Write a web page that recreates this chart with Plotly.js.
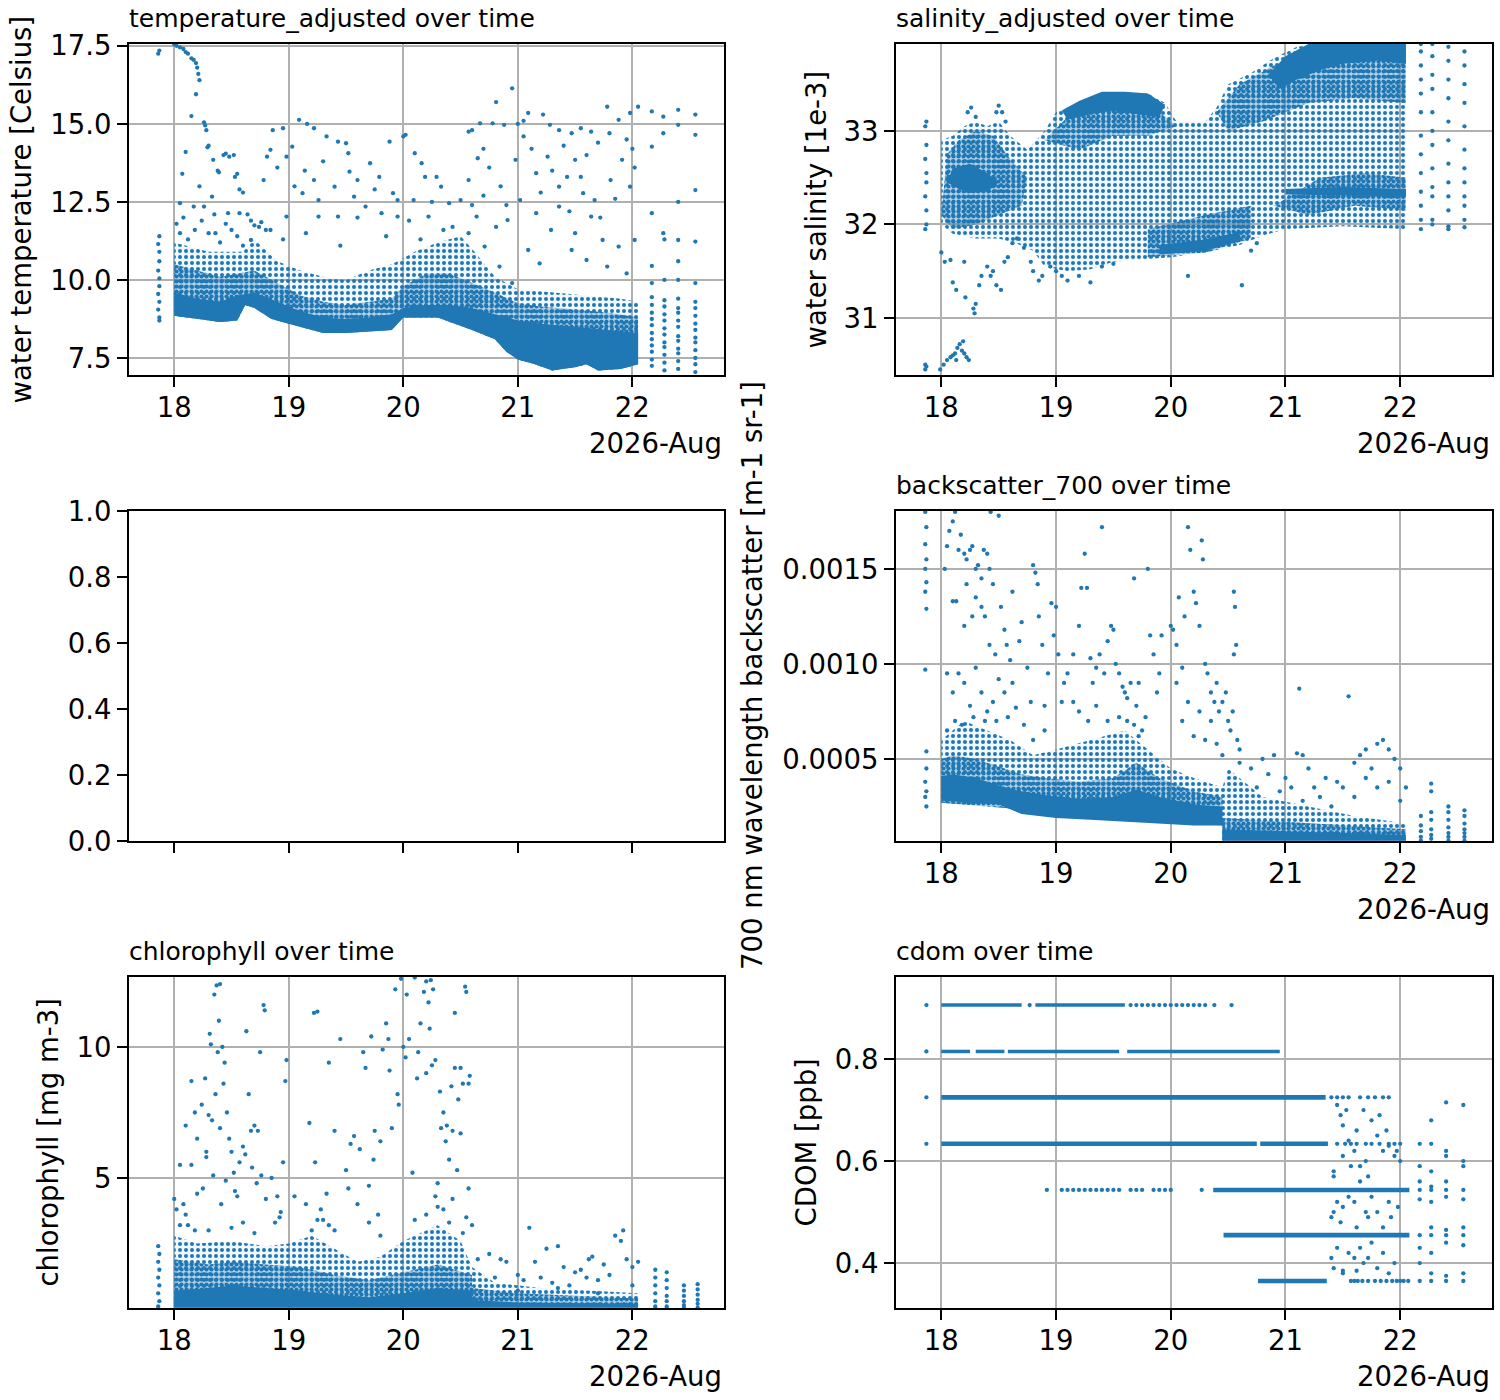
<!DOCTYPE html>
<html>
<head>
<meta charset="utf-8">
<script src="https://cdn.plot.ly/plotly-3.0.1.min.js"></script>
<style>
  body { margin: 0; background: #fff; }
  #chart { width: 1500px; height: 1400px; }
</style>
</head>
<body>
<div id="chart"></div>
<script>
// ---- shared axis values ----
const dayTicks = [18, 19, 20, 21, 22];
const dayRange = [17.605, 22.8];
const monthLabel = '2026-Aug';

// ---- temperature_adjusted (day of Aug, Celsius) ----
const tempTicks = [7.5, 10, 12.5, 15, 17.5];
const tempTickText = ['7.5', '10.0', '12.5', '15.0', '17.5'];
const tempRange = [6.955, 17.56];
const tempLowerEdge = [[18.0,8.85],[18.2,8.75],[18.4,8.65],[18.55,8.7],[18.62,9.2],[18.7,9.1],[18.85,8.75],[19.0,8.6],[19.15,8.45],[19.3,8.3],[19.5,8.3],[19.7,8.35],[19.9,8.4],[20.0,8.8],[20.3,8.8],[20.45,8.6],[20.6,8.4],[20.8,8.1],[20.9,7.7],[21.0,7.45],[21.15,7.3],[21.3,7.1],[21.5,7.2],[21.6,7.3],[21.7,7.1],[21.9,7.15],[22.05,7.3]];
const tempCoreTop = [[22.05,8.3],[21.8,8.4],[21.5,8.5],[21.2,8.6],[21.0,8.7],[20.8,8.9],[20.6,9.1],[20.4,9.2],[20.2,9.2],[20.0,9.1],[19.9,8.9],[19.7,8.8],[19.5,8.75],[19.3,8.8],[19.1,9.0],[18.9,9.3],[18.7,9.6],[18.55,9.5],[18.4,9.3],[18.2,9.4],[18.0,9.6]];
const tempMidTop = [[22.05,8.8],[21.8,8.95],[21.5,9.05],[21.2,9.15],[21.0,9.25],[20.8,9.6],[20.6,9.9],[20.4,10.2],[20.2,10.2],[20.0,9.8],[19.9,9.4],[19.7,9.3],[19.5,9.2],[19.3,9.3],[19.1,9.5],[18.9,9.9],[18.7,10.3],[18.55,10.2],[18.4,10.1],[18.2,10.3],[18.0,10.5]];
const tempCloudTop = [[22.05,9.3],[21.9,9.4],[21.6,9.5],[21.3,9.6],[21.0,9.7],[20.8,10.1],[20.6,11.0],[20.5,11.4],[20.3,11.2],[20.1,10.9],[19.9,10.5],[19.7,10.3],[19.5,10.0],[19.3,10.1],[19.1,10.3],[18.9,10.6],[18.7,11.3],[18.6,10.9],[18.3,10.9],[18.0,11.2]];
const tempPoints = [[17.87,8.7],[17.87,8.8],[17.86,9.05],[17.87,9.3],[17.86,9.55],[17.87,9.8],[17.87,10.05],[17.86,10.3],[17.87,10.6],[17.87,10.9],[17.86,11.15],[17.87,11.4],[17.86,17.25],[17.87,17.35],
  [18.0,17.55],[18.02,17.5],[18.05,17.45],[18.08,17.4],[18.1,17.3],[18.12,17.25],[18.15,17.1],[18.17,17.05],[18.19,16.95],[18.2,16.8],[18.21,16.6],[18.22,16.4],[18.19,15.95],[18.15,15.25],[18.1,14.1],[18.07,13.4],[18.26,15.05],[18.27,14.95],[18.28,14.8],[18.3,14.3],[18.29,14.25],[18.34,13.85],[18.38,13.5],[18.39,13.45],[18.43,14.0],[18.45,14.05],[18.48,13.95],[18.52,14.0],[18.53,13.3],[18.55,13.4],[18.57,12.9],[18.6,12.8],[18.64,12.1],[18.67,11.9],[18.7,11.75],[18.74,11.7],[18.76,11.85],[18.8,11.6],
  [18.86,14.8],[18.95,14.86],[19.09,15.13],[19.16,15.0],[19.22,14.86],[19.33,14.6],[19.43,14.43],[19.5,14.38],[19.52,14.06],[18.84,14.17],[18.81,13.95],[18.78,13.2],[18.98,13.95],[19.03,14.27],[19.14,13.5],[19.22,13.2],[19.26,12.56],[19.4,12.99],[19.53,13.47],[19.6,13.2],[19.71,13.74],[19.79,13.3],[19.88,14.43],[19.91,12.78],[19.95,12.56],[20.0,14.6],[20.02,14.65],[20.1,14.06],[20.16,13.74],[20.19,13.3],[20.29,13.3],[20.33,12.99],[20.4,12.46],[20.5,12.56],[20.57,13.2],[20.57,14.75],[20.6,14.8],[20.67,15.02],[20.78,15.02],[20.88,14.97],[20.95,16.14],[20.81,15.7],[21.09,15.35],[21.22,15.3],[21.28,14.97],[21.36,14.8],[21.47,14.7],[21.55,14.86],[21.64,14.75],[21.78,15.55],[21.88,15.13],[21.98,15.35],[22.05,15.55],[22.17,15.4],[22.27,15.23],[22.4,15.45],[22.55,15.3],[22.55,14.65],[22.4,14.97],[22.27,14.7],[22.17,14.27],
  [20.98,13.85],[21.05,14.6],[21.16,13.42],[21.26,13.95],[21.36,12.99],[21.43,13.3],[21.5,13.85],[21.57,12.78],[21.67,12.56],[21.81,13.2],[21.91,13.85],[21.98,12.99],[21.16,12.14],[21.29,11.6],[21.36,12.35],[21.5,11.5],[21.64,12.03],[21.74,11.28],[21.88,11.07],[22.02,11.28],[21.09,10.96],[21.19,10.53],[21.47,10.96],[21.6,10.64],[21.78,10.43],[21.95,10.21],[22.17,12.14],[22.27,11.5],[22.4,11.28],[22.55,11.23],[22.55,12.88],[22.4,12.5],
  [18.22,13.0],[18.33,12.67],[18.47,12.14],[18.57,12.14],[18.05,12.46],[18.17,12.35],[18.26,12.35],[18.36,11.5],[18.5,11.6],[18.67,11.28],[18.84,11.6],[18.98,12.03],[19.12,12.78],[19.26,12.03],[19.43,12.03],[19.57,12.67],[19.67,12.35],[19.81,12.14],[19.95,12.03],[20.09,12.56],[20.22,12.03],[20.43,11.7],[20.57,11.5],[20.64,12.03],[20.71,11.07],[20.81,11.7],[20.91,11.92],[21.02,12.56],[20.84,10.43],[20.95,9.9],
  [18.9,13.6],[19.05,13.0],[19.3,13.8],[19.6,12.0],[19.75,12.9],[19.85,11.4],[20.05,11.9],[20.25,12.5],[20.35,11.6],[20.15,11.3],[19.45,11.1],[19.15,11.5],[18.95,11.3],[18.6,11.1],[18.4,11.2],
  [20.7,14.2],[20.75,13.6],[20.85,13.0],[20.9,12.4],[21.0,15.0],[21.05,15.1],[21.12,14.2],[21.2,12.8],[21.3,13.5],[21.4,14.3],[21.45,12.2],[21.55,13.3],[21.6,14.0],[21.7,14.4],[21.72,12.0],[21.8,14.7],[21.85,12.6],[21.95,14.5],[22.0,14.2],[22.02,13.6],[20.65,13.9],[20.7,12.7],[20.6,12.4],
  [18.02,11.8],[18.05,11.5],[18.08,12.0],[18.12,11.3],[18.18,11.6],[18.24,11.9],[18.3,11.5],[18.35,12.1],[18.45,11.8],[18.55,11.4]];
const tempColumns = [[22.17,[7.25,7.45,7.7,7.9,8.1,8.3,8.55,8.75,8.95,9.2,9.45,9.9,10.45]],[22.28,[7.1,7.35,7.6,7.85,8.0,8.25,8.45,8.7,8.9,9.15,9.35,10.0,11.3]],[22.4,[7.15,7.4,7.65,7.8,8.05,8.2,8.5,8.7,8.95,9.1,9.4,10.0,10.6]],[22.55,[7.05,7.3,7.5,7.75,8.0,8.15,8.4,8.6,8.85,9.1,9.3,9.9]]];

// ---- salinity_adjusted (day of Aug, 1e-3) ----
const salTicks = [31, 32, 33];
const salTickText = ['31', '32', '33'];
const salRange = [30.39, 33.93];
const salCloud = [[18.0,32.9],[18.1,32.95],[18.2,33.05],[18.3,33.1],[18.4,33.05],[18.5,33.1],[18.6,32.95],[18.75,32.8],[18.9,33.0],[19.0,33.2],[19.2,33.3],[19.4,33.42],[19.6,33.42],[19.8,33.4],[19.95,33.3],[20.05,33.1],[20.3,33.1],[20.4,33.25],[20.5,33.5],[20.7,33.62],[20.9,33.78],[21.1,33.9],[21.3,33.93],[22.05,33.93],
  [22.05,31.95],[21.5,31.98],[21.0,31.95],[20.8,31.88],[20.6,31.78],[20.3,31.7],[20.0,31.65],[19.7,31.62],[19.5,31.6],[19.3,31.52],[19.1,31.5],[18.9,31.55],[18.8,31.72],[18.65,31.8],[18.5,31.85],[18.3,31.85],[18.1,31.9],[18.0,32.0]];
const salMid = [
  [[18.0,32.1],[18.05,32.75],[18.15,32.9],[18.3,33.0],[18.45,32.95],[18.6,32.7],[18.75,32.5],[18.7,32.2],[18.5,32.1],[18.3,32.0],[18.1,31.95]],
  [[18.9,32.9],[19.1,33.15],[19.5,33.25],[19.9,33.2],[20.05,33.05],[19.8,32.95],[19.5,32.95],[19.2,32.8]],
  [[20.4,33.2],[20.6,33.5],[20.9,33.7],[21.3,33.75],[22.05,33.75],[22.05,33.3],[21.6,33.35],[21.2,33.3],[20.8,33.1],[20.5,33.0]],
  [[20.9,32.2],[21.3,32.5],[21.7,32.55],[22.05,32.5],[22.05,32.15],[21.6,32.2],[21.2,32.1]],
  [[19.8,31.65],[20.3,31.7],[20.7,31.85],[20.7,32.2],[20.3,32.1],[19.8,31.95]]];
const salCores = [
  [[19.05,33.22],[19.2,33.32],[19.4,33.42],[19.6,33.42],[19.8,33.4],[19.95,33.28],[19.9,33.15],[19.7,33.18],[19.5,33.22],[19.3,33.18],[19.1,33.12]],
  [[20.85,33.6],[21.0,33.8],[21.2,33.93],[22.05,33.93],[22.05,33.72],[21.8,33.75],[21.5,33.72],[21.3,33.65],[21.1,33.55],[20.95,33.45]],
  [[18.05,32.45],[18.1,32.6],[18.25,32.65],[18.4,32.55],[18.5,32.45],[18.4,32.35],[18.2,32.35]],
  [[21.0,32.38],[21.5,32.4],[22.05,32.38],[22.05,32.3],[21.5,32.31],[21.0,32.32]],
  [[19.9,31.68],[20.3,31.72],[20.6,31.82],[20.6,31.92],[20.3,31.84],[19.9,31.78]]];
const salPoints = [[17.87,33.1],[17.86,33.05],[17.87,32.85],[17.86,32.7],[17.87,32.55],[17.87,32.45],[17.86,32.3],[17.87,32.15],[17.87,32.0],[17.86,31.95],[17.86,30.45],[17.87,30.48],[17.86,30.5],
  [17.99,30.45],[18.02,30.5],[18.05,30.55],[18.08,30.58],[18.1,30.6],[18.12,30.62],[18.14,30.68],[18.16,30.72],[18.18,30.65],[18.2,30.62],[18.22,30.58],[18.24,30.55],[18.13,30.55],[18.19,30.75],
  [18.0,31.7],[18.03,31.6],[18.08,31.62],[18.1,31.38],[18.13,31.3],[18.2,31.6],[18.21,31.22],[18.28,31.1],[18.29,31.05],[18.3,31.15],[18.33,31.35],[18.35,31.45],[18.4,31.55],[18.43,31.45],[18.45,31.5],[18.48,31.35],[18.52,31.3],[18.55,31.6],[18.58,31.65],[18.62,31.8],[18.66,31.85],[18.72,31.75],[18.78,31.6],[18.8,31.5],[18.85,31.4],[18.88,31.45],[18.95,31.55],[19.0,31.5],[19.05,31.45],[19.1,31.4],[19.2,31.45],[19.3,31.38],[19.4,31.55],[19.5,31.58],[20.15,31.45],[20.62,31.35],[20.7,31.72],[20.75,31.8],
  [18.23,33.2],[18.26,33.25],[18.3,33.15],[18.48,33.2],[18.5,33.27],[18.53,33.2],[18.56,33.1]];
const salColumns = [[22.18,[33.93,33.85,33.7,33.55,33.4,33.2,32.95,32.75,32.55,32.35,32.2,32.05,31.95]],[22.28,[33.93,33.8,33.6,33.45,33.2,33.0,32.85,32.6,32.4,32.3,32.05,32.0]],[22.42,[33.9,33.75,33.55,33.35,33.1,32.9,32.65,32.45,32.3,32.15,31.98,31.95]],[22.56,[33.85,33.7,33.5,33.3,33.05,32.8,32.6,32.45,32.3,32.2,32.05,31.97]]];

// ---- backscatter_700 (day of Aug, m-1 sr-1) ----
const backTicks = [0.0005, 0.0010, 0.0015];
const backTickText = ['0.0005', '0.0010', '0.0015'];
const backRange = [0.0000684, 0.001805];
const backCloud = [[18.0,0.0006],[18.2,0.0007],[18.4,0.00065],[18.6,0.0006],[18.8,0.00052],[19.0,0.00055],[19.3,0.0006],[19.6,0.00065],[19.8,0.00055],[20.0,0.00045],[20.2,0.0004],[20.45,0.00035],[20.5,0.00045],[20.8,0.0003],[21.2,0.00025],[21.6,0.0002],[22.05,0.00016],[22.05,0.00007],[20.45,0.00007],[20.45,0.00015],[18.0,0.00027]];
const backMid = [
  [[18.0,0.00027],[20.45,0.00015],[20.45,0.0003],[20.2,0.00033],[19.9,0.0004],[19.7,0.00048],[19.5,0.0004],[19.2,0.00038],[18.9,0.0004],[18.7,0.00042],[18.5,0.00046],[18.3,0.0005],[18.1,0.00052],[18.0,0.0005]],
  [[20.45,0.00007],[22.05,0.00007],[22.05,0.00013],[21.5,0.00015],[21.0,0.00017],[20.45,0.00019]]];
const backCores = [
  [[18.0,0.00028],[18.3,0.00027],[18.5,0.00026],[18.7,0.00021],[19.0,0.00019],[19.3,0.00018],[19.6,0.00017],[19.9,0.00016],[20.2,0.00015],[20.45,0.00015],[20.45,0.00025],[20.2,0.00026],[19.9,0.0003],[19.7,0.00034],[19.5,0.0003],[19.2,0.00029],[18.9,0.00031],[18.7,0.00033],[18.5,0.00036],[18.3,0.0004],[18.1,0.00042],[18.0,0.00041]],
  [[20.45,0.00007],[22.05,0.00007],[22.05,0.0001],[21.5,0.00011],[21.0,0.00012],[20.45,0.00013]]];
const backPoints = [[17.87,0.00025],[17.86,0.0003],[17.87,0.00033],[17.86,0.00038],[17.87,0.00045],[17.87,0.00054],[17.86,0.00097],[17.87,0.00129],[17.86,0.00138],[17.87,0.00143],[17.86,0.0015],[17.87,0.00155],[17.86,0.00163],[17.87,0.00172],[17.86,0.0018],
  [18.03,0.0015],[18.05,0.00162],[18.07,0.0017],[18.1,0.00175],[18.12,0.0018],[18.15,0.0016],[18.17,0.00168],[18.2,0.00158],[18.22,0.00155],[18.25,0.0016],[18.27,0.00162],[18.3,0.0015],[18.32,0.00152],[18.35,0.00145],[18.37,0.0016],[18.4,0.00158],[18.42,0.0015],[18.45,0.00142],[18.43,0.0018],[18.5,0.00178],[18.52,0.0013],[18.55,0.00118],[18.57,0.0011],[18.6,0.00102],[18.62,0.00138],[18.1,0.00133],[18.13,0.00133],[18.2,0.0012],[18.22,0.00142],[18.27,0.00125],[18.3,0.00135],[18.35,0.0013],[18.38,0.00125],[18.42,0.0011],[18.47,0.00105],[18.05,0.00095],[18.1,0.00085],[18.15,0.00095],[18.2,0.0009],[18.25,0.00078],[18.3,0.00098],[18.35,0.00085],[18.4,0.00075],[18.45,0.0008],[18.5,0.00092],[18.55,0.00085],[18.58,0.00072],[18.62,0.0009],[18.65,0.00077],[18.05,0.00065],[18.12,0.0007],[18.18,0.00068],[18.28,0.00072],[18.38,0.0007],[18.48,0.0007],[18.68,0.00112],[18.7,0.00122],[18.75,0.00098],[18.8,0.00152],[18.82,0.00148],[18.84,0.00142],[18.85,0.00125],[18.88,0.0011],[18.9,0.00078],[18.93,0.00095],[18.96,0.00132],[18.98,0.00115],[19.0,0.0013],[19.02,0.00105],[19.05,0.0008],[19.07,0.0009],[18.78,0.0008],[18.72,0.00068],[18.8,0.0006],[18.9,0.00065],
  [19.1,0.00095],[19.15,0.00105],[19.2,0.0012],[19.22,0.0014],[19.25,0.00158],[19.27,0.0014],[19.3,0.00103],[19.32,0.0009],[19.35,0.00098],[19.38,0.00105],[19.4,0.00172],[19.42,0.00095],[19.45,0.00112],[19.48,0.0012],[19.5,0.00118],[19.52,0.001],[19.55,0.00095],[19.58,0.00088],[19.6,0.00085],[19.62,0.00082],[19.65,0.0009],[19.68,0.00145],[19.7,0.00078],[19.72,0.0009],[19.75,0.00065],[19.78,0.00072],[19.8,0.0015],[19.82,0.00115],[19.85,0.00105],[19.88,0.00085],[19.9,0.00095],[19.92,0.00115],[19.15,0.0008],[19.2,0.00075],[19.28,0.0007],[19.35,0.00078],[19.45,0.0007],[19.55,0.00072],[19.62,0.0007],[19.68,0.00068],[19.72,0.00062],
  [20.0,0.0012],[20.02,0.00118],[20.05,0.0011],[20.07,0.00135],[20.1,0.00098],[20.12,0.00125],[20.15,0.00172],[20.17,0.0016],[20.2,0.00138],[20.22,0.00132],[20.25,0.0012],[20.27,0.00165],[20.28,0.00155],[20.3,0.001],[20.32,0.00095],[20.35,0.00085],[20.38,0.0008],[20.4,0.0009],[20.42,0.00075],[20.45,0.0008],[20.48,0.00085],[20.5,0.0007],[20.52,0.00065],[20.54,0.00075],[20.55,0.00105],[20.57,0.0011],[20.58,0.0006],[20.6,0.00055],[20.55,0.00138],[20.56,0.0013],[20.05,0.0009],[20.15,0.0008],[20.25,0.00075],[20.35,0.0007],[20.1,0.0007],[20.2,0.00062],[20.3,0.0006],[20.4,0.00058],[20.45,0.00052],
  [20.6,0.00048],[20.7,0.00045],[20.8,0.0005],[20.85,0.00042],[20.9,0.00052],[21.0,0.0004],[21.05,0.00035],[21.1,0.00053],[21.12,0.00087],[21.15,0.00052],[21.2,0.00045],[21.25,0.00035],[21.3,0.0003],[21.4,0.00025],[21.5,0.00035],[21.55,0.00083],[21.6,0.00048],[21.65,0.00052],[21.7,0.00055],[21.75,0.00045],[21.8,0.00058],[21.85,0.0006],[21.9,0.00055],[21.95,0.0005],[22.0,0.00045],[22.05,0.00035],[21.7,0.0004],[21.8,0.00035],[21.6,0.0003],[21.45,0.00038],[21.35,0.0004],[20.95,0.00033],[20.75,0.00035],[21.15,0.00028],[21.9,0.00038],[22.0,0.00028]];
const backColumns = [[22.18,[0.00007,0.00009,0.00012,0.00015,0.0002]],[22.27,[0.00008,0.0001,0.00013,0.00018,0.00022,0.00033,0.00037]],[22.42,[0.00007,0.00009,0.00011,0.00014,0.00018,0.00022,0.00025]],[22.56,[0.00007,0.00009,0.00011,0.00013,0.00016,0.0002,0.00023]]];

// ---- chlorophyll (day of Aug, mg m-3) ----
const chlTicks = [5, 10];
const chlTickText = ['5', '10'];
const chlRange = [0.04, 12.67];
const chlCloud = [[18.0,2.8],[18.2,2.5],[18.5,2.6],[18.8,2.4],[19.0,2.5],[19.2,2.8],[19.4,2.3],[19.6,1.8],[19.8,2.0],[20.0,2.6],[20.3,3.2],[20.5,2.6],[20.6,1.6],[20.8,1.0],[21.2,0.8],[21.6,0.7],[22.05,0.6],[22.05,0.05],[18.0,0.05]];
const chlMid = [
  [[18.0,0.05],[20.6,0.05],[20.6,1.3],[20.3,1.7],[20.0,1.4],[19.7,1.1],[19.4,1.3],[19.1,1.6],[18.8,1.7],[18.5,1.8],[18.3,1.7],[18.0,1.9]],
  [[20.6,0.05],[22.05,0.05],[22.05,0.4],[21.5,0.5],[21.0,0.6],[20.6,0.8]]];
const chlCores = [
  [[18.0,0.05],[20.6,0.05],[20.6,0.7],[20.3,0.8],[20.0,0.6],[19.7,0.45],[19.4,0.55],[19.1,0.7],[18.8,0.8],[18.5,0.9],[18.3,0.8],[18.0,0.7]],
  [[20.6,0.05],[22.05,0.05],[22.05,0.2],[21.5,0.22],[21.0,0.25],[20.6,0.35]]];
const chlPoints = [[17.86,0.1],[17.87,0.3],[17.86,0.6],[17.87,0.9],[17.86,1.2],[17.87,1.5],[17.86,1.8],[17.87,2.1],[17.86,2.4],
  [18.0,4.2],[18.02,3.8],[18.05,5.5],[18.08,4.0],[18.1,3.6],[18.12,3.2],[18.15,5.5],[18.15,8.7],[18.1,7.0],[18.18,3.0],[18.2,4.4],[18.18,7.5],[18.2,6.5],[18.24,7.8],[18.25,4.6],[18.27,8.8],[18.28,6.0],[18.28,5.8],[18.3,7.4],[18.31,10.5],[18.32,10.1],[18.33,7.2],[18.34,5.1],[18.35,12.0],[18.36,8.2],[18.37,12.35],[18.38,9.8],[18.39,11.0],[18.4,12.4],[18.4,6.9],[18.41,4.0],[18.42,10.0],[18.43,8.6],[18.44,9.4],[18.45,4.9],[18.46,7.5],[18.48,6.5],[18.5,6.0],[18.52,5.2],[18.53,4.5],[18.55,4.3],[18.57,5.6],[18.6,6.2],[18.62,5.9],[18.63,10.6],[18.65,8.2],[18.67,6.8],[18.68,5.4],[18.7,7.0],[18.72,4.8],[18.73,6.8],[18.75,9.8],[18.76,5.1],[18.78,11.6],[18.79,11.4],[18.8,4.2],[18.85,5.0],[18.9,4.3],[18.92,3.5],[18.95,5.6],[18.97,8.7],[18.98,9.5],[18.93,3.7],[18.88,3.3],
  [19.05,4.3],[19.15,4.0],[19.18,7.1],[19.22,11.3],[19.25,11.35],[19.23,5.6],[19.28,3.8],[19.3,3.4],[19.33,4.4],[19.35,9.4],[19.4,6.8],[19.45,10.3],[19.5,5.3],[19.52,4.6],[19.54,6.3],[19.57,6.6],[19.6,4.0],[19.62,6.1],[19.65,9.8],[19.67,9.2],[19.7,4.7],[19.72,10.4],[19.74,5.7],[19.75,6.8],[19.78,3.6],[19.8,6.4],[19.82,9.9],[19.85,10.9],[19.87,10.3],[19.88,9.1],[19.9,6.9],[19.93,12.2],[19.95,8.2],[19.96,7.8],[19.98,12.6],[20.0,10.0],[20.02,9.6],[20.03,12.0],[20.05,10.3],
  [20.08,5.2],[20.1,12.65],[20.12,8.8],[20.13,9.8],[20.15,10.9],[20.18,12.1],[20.2,12.5],[20.2,9.0],[20.22,11.7],[20.23,10.7],[20.24,12.55],[20.25,9.3],[20.26,12.2],[20.28,9.5],[20.3,4.8],[20.28,4.3],[20.32,8.3],[20.33,6.9],[20.35,7.5],[20.37,6.4],[20.38,7.0],[20.4,5.7],[20.42,8.5],[20.43,6.8],[20.45,9.2],[20.47,5.3],[20.48,8.0],[20.5,9.2],[20.5,6.7],[20.52,8.6],[20.54,12.3],[20.55,12.1],[20.57,8.6],[20.58,8.9],[20.57,4.6],[20.45,11.3],[20.43,4.2],[20.35,3.8],[20.55,3.5],[20.6,3.2],[20.52,2.9],
  [20.65,1.9],[20.75,2.1],[20.85,1.9],[20.9,1.8],[21.0,1.3],[21.05,1.1],[21.1,3.1],[21.15,1.8],[21.2,1.2],[21.25,2.3],[21.3,1.0],[21.35,2.4],[21.4,1.6],[21.45,0.9],[21.5,1.4],[21.55,1.5],[21.6,1.2],[21.62,1.9],[21.65,2.0],[21.7,1.1],[21.75,1.7],[21.8,1.3],[21.85,2.8],[21.9,2.6],[21.92,3.0],[21.95,1.9],[22.0,1.6],[22.05,1.8],[21.35,0.8],[21.0,0.7],[20.8,1.2],[21.7,0.6],[22.0,0.9],
  [18.05,3.2],[18.3,3.0],[18.5,3.1],[18.6,3.3],[18.7,2.9],[19.2,3.0],[19.25,3.4],[19.35,3.2],[19.4,3.0],[19.7,3.3],[19.8,2.8],[20.1,3.4],[20.2,3.6],[20.3,3.9],[20.4,3.3]];
const chlColumns = [[22.2,[0.1,0.3,0.6,0.9,1.2,1.5]],[22.3,[0.1,0.3,0.5,0.8,1.1,1.4]],[22.45,[0.05,0.15,0.3,0.5,0.7,0.9]],[22.57,[0.05,0.2,0.35,0.55,0.75,0.95]]];

// ---- cdom (day of Aug, ppb) ----
const cdomTicks = [0.4, 0.6, 0.8];
const cdomTickText = ['0.4', '0.6', '0.8'];
const cdomRange = [0.312, 0.961];
// [level, first day, last day] of the runs that read as solid lines
const cdomRuns = [[0.906,18.0,18.7],[0.906,18.82,19.6],[0.815,18.0,18.25],[0.815,18.3,18.55],[0.815,18.58,19.55],[0.815,19.62,20.95],[0.725,18.0,21.35],[0.634,18.0,20.75],[0.634,20.78,21.37],[0.5435,20.37,22.08],[0.4548,20.46,22.08],[0.3649,20.76,21.36]];
const cdomLevelDots = [[0.906,[17.87,18.77,19.65,19.7,19.75,19.8,19.85,19.9,19.95,20.0,20.05,20.1,20.15,20.2,20.25,20.3,20.38,20.53]],[0.815,[17.87]],[0.725,[17.87,21.4,21.45,21.5,21.55,21.65,21.72,21.78,21.85,21.9]],[0.634,[17.87,21.45,21.52,21.57,21.62,21.7,21.75,21.82,21.9,21.95,22.0]],[0.5435,[18.92,19.05,19.1,19.15,19.2,19.25,19.3,19.35,19.4,19.45,19.5,19.55,19.65,19.7,19.75,19.85,19.9,19.95,20.0,20.27]],[0.3649,[21.57,21.6,21.63,21.67,21.72,21.78,21.83,21.88,21.93,21.97,22.0,22.03,22.07]]];
const cdomPoints = [[21.42,0.58],[21.42,0.57],[21.45,0.71],[21.48,0.69],[21.5,0.67],[21.5,0.61],[21.53,0.7],[21.55,0.64],[21.57,0.59],[21.6,0.62],[21.62,0.66],[21.65,0.59],[21.68,0.7],[21.7,0.6],[21.72,0.57],[21.75,0.68],[21.8,0.65],[21.82,0.69],[21.85,0.62],[21.88,0.66],[21.9,0.63],[21.95,0.61],[21.97,0.62],[22.0,0.6],
  [21.4,0.49],[21.42,0.5],[21.45,0.52],[21.48,0.48],[21.5,0.51],[21.55,0.53],[21.6,0.52],[21.62,0.47],[21.65,0.56],[21.7,0.5],[21.72,0.49],[21.75,0.53],[21.8,0.5],[21.85,0.47],[21.9,0.52],[21.92,0.49],[21.98,0.51],
  [21.4,0.41],[21.42,0.39],[21.45,0.43],[21.5,0.38],[21.55,0.42],[21.6,0.41],[21.65,0.43],[21.68,0.4],[21.72,0.41],[21.75,0.44],[21.8,0.39],[21.85,0.42],[21.9,0.38],[21.95,0.4],[21.5,0.385],[21.62,0.385]];
const cdomColumns = [[22.17,[0.634,0.59,0.56,0.5435,0.525,0.4548,0.43,0.4,0.3649]],[22.27,[0.634,0.68,0.58,0.55,0.5435,0.52,0.47,0.4548,0.42,0.38,0.3649]],[22.4,[0.715,0.62,0.61,0.56,0.5435,0.53,0.465,0.4548,0.44,0.375,0.3649]],[22.55,[0.71,0.6,0.59,0.5435,0.525,0.47,0.4548,0.435,0.38,0.3649]]];

// ---- empty panel ----
const emptyTicks = [0, 0.2, 0.4, 0.6, 0.8, 1.0];
const emptyTickText = ['0.0', '0.2', '0.4', '0.6', '0.8', '1.0'];

// ---- layout geometry (pixels of the 1500x1400 figure) ----
const W = 1500, H = 1400;
const cols = [[129, 724], [896, 1492]];
const rows = [[44, 375], [511, 841], [977, 1308]];
const blue = '#1f77b4';
const font = 'DejaVu Sans, sans-serif';

const xDom = c => [cols[c][0] / W, cols[c][1] / W];
const yDom = r => [1 - rows[r][1] / H, 1 - rows[r][0] / H];

function flatten(points, columns) {
    const x = [], y = [];
    points.forEach(([d, v]) => { x.push(d); y.push(v); });
    (columns || []).forEach(([d, vals]) => vals.forEach(v => { x.push(d); y.push(v); }));
    return { x, y };
}

function rings(list) {
    const x = [], y = [];
    list.forEach((ring, i) => {
        if (i > 0) { x.push(null); y.push(null); }
        ring.forEach(([d, v]) => { x.push(d); y.push(v); });
    });
    return { x, y };
}

function dots(points, columns, ax) {
    const p = flatten(points, columns);
    return { x: p.x, y: p.y, xaxis: 'x' + ax, yaxis: 'y' + ax, type: 'scatter', mode: 'markers',
        marker: { size: 4.3, color: blue }, hoverinfo: 'skip' };
}

// density: 'solid' for the packed cores, 'mid' / 'sparse' for dotted clouds
function area(list, ax, density) {
    const p = rings(list);
    const t = { x: p.x, y: p.y, xaxis: 'x' + ax, yaxis: 'y' + ax, type: 'scatter', mode: 'lines',
        line: { width: 0, color: blue }, fill: 'toself', hoverinfo: 'skip' };
    if (density === 'solid') {
        t.fillcolor = blue;
    } else {
        t.fillcolor = 'rgba(31,119,180,0.15)';
        t.fillpattern = density === 'mid'
            ? { shape: '.', fgcolor: blue, bgcolor: 'rgba(31,119,180,0.3)', size: 5, solidity: 0.55 }
            : { shape: '.', fgcolor: blue, bgcolor: 'rgba(31,119,180,0.06)', size: 6, solidity: 0.36 };
    }
    return t;
}

const traces = [];
// temperature
traces.push(area([tempLowerEdge.concat(tempCloudTop)], '', 'sparse'));
traces.push(area([tempLowerEdge.concat(tempMidTop)], '', 'mid'));
traces.push(area([tempLowerEdge.concat(tempCoreTop)], '', 'solid'));
traces.push(dots(tempPoints, tempColumns, ''));
// salinity
traces.push(area([salCloud], '2', 'sparse'));
traces.push(area(salMid, '2', 'mid'));
traces.push(area(salCores, '2', 'solid'));
traces.push(dots(salPoints, salColumns, '2'));
// empty
traces.push({ x: [], y: [], xaxis: 'x3', yaxis: 'y3', type: 'scatter', mode: 'markers' });
// backscatter
traces.push(area([backCloud], '4', 'sparse'));
traces.push(area(backMid, '4', 'mid'));
traces.push(area(backCores, '4', 'solid'));
traces.push(dots(backPoints, backColumns, '4'));
// chlorophyll
traces.push(area([chlCloud], '5', 'sparse'));
traces.push(area(chlMid, '5', 'mid'));
traces.push(area(chlCores, '5', 'solid'));
traces.push(dots(chlPoints, chlColumns, '5'));
// cdom: upper two levels are thinner dotted runs, lower ones are packed
[[true, 3.5], [false, 4.6]].forEach(([upper, width]) => {
    const rx = [], ry = [];
    cdomRuns.filter(r => (r[0] > 0.8) === upper).forEach(([lvl, a, b]) => { rx.push(a, b, null); ry.push(lvl, lvl, null); });
    traces.push({ x: rx, y: ry, xaxis: 'x6', yaxis: 'y6', type: 'scatter', mode: 'lines',
        line: { width: width, color: blue }, hoverinfo: 'skip' });
});
const levelPts = [];
cdomLevelDots.forEach(([lvl, days]) => days.forEach(d => levelPts.push([d, lvl])));
traces.push(dots(levelPts.concat(cdomPoints), cdomColumns, '6'));

function xAxis(c, anchor, labels) {
    return { domain: xDom(c), anchor: anchor, range: dayRange, tickvals: dayTicks, ticktext: dayTicks.map(String),
        showticklabels: labels, ticks: 'outside', ticklen: 10, tickwidth: 2, tickcolor: '#000',
        ticklabelstandoff: -3,
        showline: true, linewidth: 2, linecolor: '#000', mirror: true,
        showgrid: labels, gridcolor: '#b0b0b0', gridwidth: 2, zeroline: false,
        tickfont: { family: font, size: 27.5, color: '#000' } };
}

function yAxis(r, anchor, range, vals, text, grid) {
    return { domain: yDom(r), anchor: anchor, range: range, tickvals: vals, ticktext: text,
        ticks: 'outside', ticklen: 10, tickwidth: 2, tickcolor: '#000',
        showline: true, linewidth: 2, linecolor: '#000', mirror: true,
        showgrid: grid, gridcolor: '#b0b0b0', gridwidth: 2, zeroline: false,
        tickfont: { family: font, size: 27.5, color: '#000' } };
}

const panels = [
    { c: 0, r: 0, title: 'temperature_adjusted over time', label: 'water temperature [Celsius]', labelX: 20, offset: true },
    { c: 1, r: 0, title: 'salinity_adjusted over time', label: 'water salinity [1e-3]', labelX: 815, offset: true },
    { c: 0, r: 1, title: '', label: '', offset: false },
    { c: 1, r: 1, title: 'backscatter_700 over time', label: '700 nm wavelength backscatter [m-1 sr-1]', labelX: 752, offset: true },
    { c: 0, r: 2, title: 'chlorophyll over time', label: 'chlorophyll [mg m-3]', labelX: 47, offset: true },
    { c: 1, r: 2, title: 'cdom over time', label: 'CDOM [ppb]', labelX: 805, offset: true }
];

const annotations = [];
panels.forEach(p => {
    const xd = xDom(p.c), yd = yDom(p.r);
    if (p.title) {
        annotations.push({ text: p.title, xref: 'paper', yref: 'paper', x: xd[0], y: yd[1],
            xanchor: 'left', yanchor: 'middle', yshift: 26, xshift: -2, showarrow: false,
            font: { family: font, size: 25, color: '#000' } });
    }
    if (p.label) {
        annotations.push({ text: p.label, xref: 'paper', yref: 'paper', x: p.labelX / W, y: (yd[0] + yd[1]) / 2,
            xanchor: 'center', yanchor: 'middle', textangle: -90, showarrow: false,
            font: { family: font, size: 27.5, color: '#000' } });
    }
    if (p.offset) {
        annotations.push({ text: monthLabel, xref: 'paper', yref: 'paper', x: xd[1], y: yd[0],
            xanchor: 'right', yanchor: 'middle', yshift: -68, showarrow: false,
            font: { family: font, size: 27.5, color: '#000' } });
    }
});

const layout = {
    width: W, height: H,
    margin: { l: 0, r: 0, t: 0, b: 0 },
    paper_bgcolor: '#fff', plot_bgcolor: '#fff',
    showlegend: false, hovermode: false,
    font: { family: font, color: '#000' },
    xaxis: xAxis(0, 'y', true), yaxis: yAxis(0, 'x', tempRange, tempTicks, tempTickText, true),
    xaxis2: xAxis(1, 'y2', true), yaxis2: yAxis(0, 'x2', salRange, salTicks, salTickText, true),
    xaxis3: xAxis(0, 'y3', false), yaxis3: yAxis(1, 'x3', [0, 1], emptyTicks, emptyTickText, false),
    xaxis4: xAxis(1, 'y4', true), yaxis4: yAxis(1, 'x4', backRange, backTicks, backTickText, true),
    xaxis5: xAxis(0, 'y5', true), yaxis5: yAxis(2, 'x5', chlRange, chlTicks, chlTickText, true),
    xaxis6: xAxis(1, 'y6', true), yaxis6: yAxis(2, 'x6', cdomRange, cdomTicks, cdomTickText, true),
    annotations: annotations
};

Plotly.newPlot('chart', traces, layout, { staticPlot: true, displayModeBar: false });
</script>
</body>
</html>
